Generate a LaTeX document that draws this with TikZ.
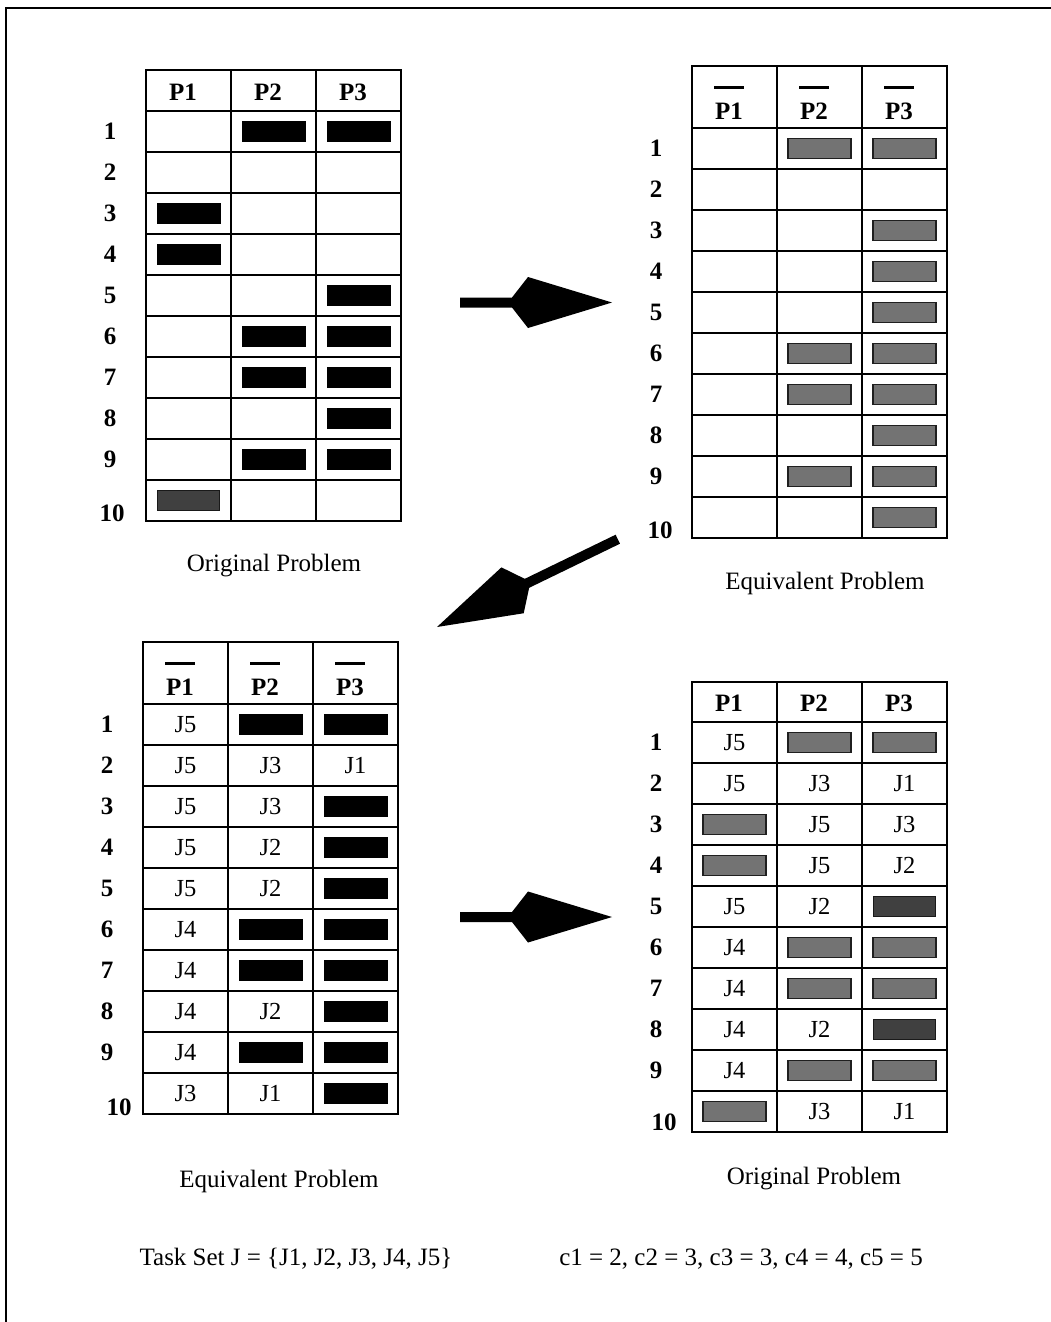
\documentclass[tikz,border=0pt]{standalone}
\usepackage{fontspec}
\setmainfont{Liberation Serif}
\newcommand\gridtab[6]{%
  \draw[grid] (#2,#3) rectangle (#2+255,#4+410);
  \foreach \i in {1,2} \draw[grid] (#2+85*\i,#3) -- (#2+85*\i,#4+410);
  \foreach \j in {0,...,9} \draw[grid] (#2,#4+41*\j) -- (#2+255,#4+41*\j);
  \foreach \r in {1,...,10} {\foreach \c in {1,2,3} {\coordinate (#1-\r-\c) at (#2+85*\c-42.5,#4+41*\r-20.5);}}
  \foreach \r in {1,...,9} {\node[rowlab] (#1-l\r) at (#2-36,#4+41*\r-20.5) {\r};}
  \node[rowlab] (#1-l10) at (#2+#5,#4+410-20.5+#6) {10};
}
\newcommand\plainhdr[3]{\foreach \c in {1,2,3} {\node[hdr] (#1-h\c) at (#2+85*\c-48,#3-19) {P\c};}}
\newcommand\barhdr[3]{\foreach \c in {1,2,3} {\node[hdr] (#1-h\c) at (#2+85*\c-48,#3-17) {P\c};
  \draw[line width=3pt] (#2+85*\c-63,#3-41) -- (#2+85*\c-33,#3-41);}}
\newcommand\fb[3]{\node[blk] (#1-b#2-#3) at (#1-#2-#3) {};}
\newcommand\fd[3]{\node[dgr] (#1-b#2-#3) at (#1-#2-#3) {};}
\newcommand\fg[3]{\node[gry] (#1-b#2-#3) at (#1-#2-#3) {};}
\newcommand\ft[4]{\node[cell] (#1-t#2-#3) at (#1-#2-#3) {#4};}
\newcommand\bigarrow[3]{%
  \begin{scope}[shift={(#1)},rotate=#2]
    \fill (-#3,5) -- (-100,5) -- (-84,25.5) -- (0,0) -- (-84,-25.5) -- (-100,-5) -- (-#3,-5) -- cycle;
  \end{scope}}
\begin{document}
\begin{tikzpicture}[x=1pt,y=-1pt,
  grid/.style={line width=1.6pt},
  hdr/.style={font=\fontsize{25}{28}\selectfont\bfseries,inner sep=0pt,text height=16.5pt,text depth=0pt},
  rowlab/.style={font=\fontsize{25}{28}\selectfont\bfseries,inner sep=0pt,text height=16.5pt,text depth=0pt},
  cell/.style={font=\fontsize{24.5}{28}\selectfont,inner sep=0pt,text height=16.5pt,text depth=0pt},
  captxt/.style={font=\fontsize{25}{28}\selectfont,inner sep=0pt,text height=16.5pt,text depth=0pt},
  blk/.style={fill=black,minimum width=64pt,minimum height=21pt,inner sep=0pt},
  dgr/.style={fill=black!75,draw=black!90,line width=1.5pt,minimum width=62pt,minimum height=20pt,inner sep=0pt},
  gry/.style={fill=black!55,draw=black!88,line width=1.8pt,minimum width=63pt,minimum height=20pt,inner sep=0pt}]
\useasboundingbox (0,0) rectangle (1051,1322);
\fill[white] (0,0) rectangle (1051,1322);
% frame
\coordinate (fr-tr) at (1051,8);
\coordinate (fr-tl) at (6,8);
\coordinate (fr-bl) at (6,1322);
\draw[line width=2pt] (fr-tr) -- (fr-tl) -- (fr-bl);

% ---------- table 1: original problem (top left)
\gridtab{ta}{146}{70}{111}{-34}{13}
\plainhdr{ta}{146}{111}
\fb{ta}{1}{2}\fb{ta}{1}{3}
\fb{ta}{3}{1}\fb{ta}{4}{1}
\fb{ta}{5}{3}
\fb{ta}{6}{2}\fb{ta}{6}{3}
\fb{ta}{7}{2}\fb{ta}{7}{3}
\fb{ta}{8}{3}
\fb{ta}{9}{2}\fb{ta}{9}{3}
\fd{ta}{10}{1}
\node[captxt] (capa) at (274,563) {Original Problem};

% ---------- table 2: equivalent problem (top right)
\gridtab{tb}{692}{66}{128}{-32}{13}
\barhdr{tb}{692}{128}
\fg{tb}{1}{2}\fg{tb}{1}{3}
\fg{tb}{3}{3}\fg{tb}{4}{3}\fg{tb}{5}{3}
\fg{tb}{6}{2}\fg{tb}{6}{3}
\fg{tb}{7}{2}\fg{tb}{7}{3}
\fg{tb}{8}{3}
\fg{tb}{9}{2}\fg{tb}{9}{3}
\fg{tb}{10}{3}
\node[captxt] (capb) at (825,581) {Equivalent Problem};

% ---------- table 3: equivalent problem solved (bottom left)
\gridtab{tc}{143}{642}{704}{-24}{14}
\barhdr{tc}{143}{704}
\ft{tc}{1}{1}{J5}\fb{tc}{1}{2}\fb{tc}{1}{3}
\ft{tc}{2}{1}{J5}\ft{tc}{2}{2}{J3}\ft{tc}{2}{3}{J1}
\ft{tc}{3}{1}{J5}\ft{tc}{3}{2}{J3}\fb{tc}{3}{3}
\ft{tc}{4}{1}{J5}\ft{tc}{4}{2}{J2}\fb{tc}{4}{3}
\ft{tc}{5}{1}{J5}\ft{tc}{5}{2}{J2}\fb{tc}{5}{3}
\ft{tc}{6}{1}{J4}\fb{tc}{6}{2}\fb{tc}{6}{3}
\ft{tc}{7}{1}{J4}\fb{tc}{7}{2}\fb{tc}{7}{3}
\ft{tc}{8}{1}{J4}\ft{tc}{8}{2}{J2}\fb{tc}{8}{3}
\ft{tc}{9}{1}{J4}\fb{tc}{9}{2}\fb{tc}{9}{3}
\ft{tc}{10}{1}{J3}\ft{tc}{10}{2}{J1}\fb{tc}{10}{3}
\node[captxt] (capc) at (279,1179) {Equivalent Problem};

% ---------- table 4: original problem solved (bottom right)
\gridtab{td}{692}{682}{722}{-28}{11}
\plainhdr{td}{692}{722}
\ft{td}{1}{1}{J5}\fg{td}{1}{2}\fg{td}{1}{3}
\ft{td}{2}{1}{J5}\ft{td}{2}{2}{J3}\ft{td}{2}{3}{J1}
\fg{td}{3}{1}\ft{td}{3}{2}{J5}\ft{td}{3}{3}{J3}
\fg{td}{4}{1}\ft{td}{4}{2}{J5}\ft{td}{4}{3}{J2}
\ft{td}{5}{1}{J5}\ft{td}{5}{2}{J2}\fd{td}{5}{3}
\ft{td}{6}{1}{J4}\fg{td}{6}{2}\fg{td}{6}{3}
\ft{td}{7}{1}{J4}\fg{td}{7}{2}\fg{td}{7}{3}
\ft{td}{8}{1}{J4}\ft{td}{8}{2}{J2}\fd{td}{8}{3}
\ft{td}{9}{1}{J4}\fg{td}{9}{2}\fg{td}{9}{3}
\fg{td}{10}{1}\ft{td}{10}{2}{J3}\ft{td}{10}{3}{J1}
\node[captxt] (capd) at (814,1176) {Original Problem};

% ---------- arrows
\coordinate (arA) at (612,302.5);
\coordinate (arB) at (437,627);
\coordinate (arC) at (612,917);
\bigarrow{arA}{0}{152}
\bigarrow{arB}{205.9}{201}
\bigarrow{arC}{0}{152}

% ---------- bottom texts
\node[captxt] (taskset) at (296,1257) {Task Set J = \{J1, J2, J3, J4, J5\}};
\node[captxt] (costs) at (741,1257) {c1 = 2, c2 = 3, c3 = 3, c4 = 4, c5 = 5};
\end{tikzpicture}
\end{document}
